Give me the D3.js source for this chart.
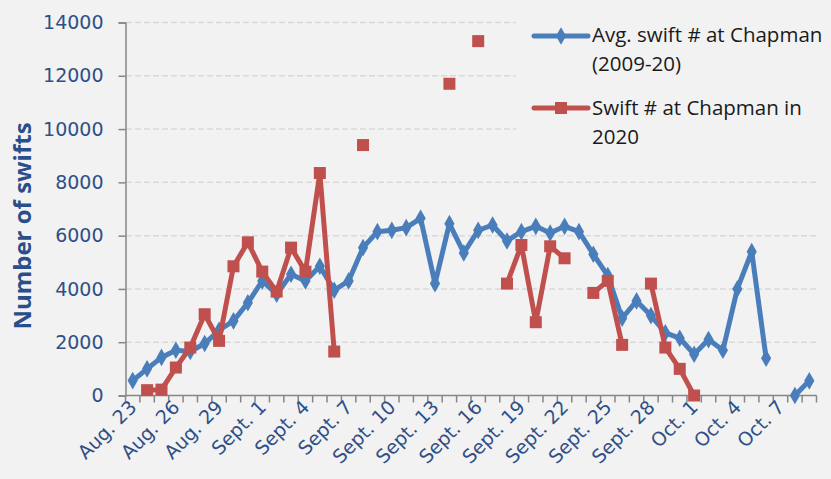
<!DOCTYPE html>
<html>
<head>
<meta charset="utf-8">
<script src="https://cdn.jsdelivr.net/npm/d3@7"></script>
<style>
  html, body { margin: 0; padding: 0; background: #f2f2f2; }
  svg { display: block; }
</style>
</head>
<body>
<div id="chart"></div>
<script>
// Chart size
const WIDTH = 831;
const HEIGHT = 479;

// Categories (one per day)
const days = [
  "Aug. 23", "Aug. 24", "Aug. 25", "Aug. 26", "Aug. 27", "Aug. 28", "Aug. 29", "Aug. 30", "Aug. 31",
  "Sept. 1", "Sept. 2", "Sept. 3", "Sept. 4", "Sept. 5", "Sept. 6", "Sept. 7", "Sept. 8", "Sept. 9",
  "Sept. 10", "Sept. 11", "Sept. 12", "Sept. 13", "Sept. 14", "Sept. 15", "Sept. 16", "Sept. 17",
  "Sept. 18", "Sept. 19", "Sept. 20", "Sept. 21", "Sept. 22", "Sept. 23", "Sept. 24", "Sept. 25",
  "Sept. 26", "Sept. 27", "Sept. 28", "Sept. 29", "Sept. 30", "Oct. 1", "Oct. 2", "Oct. 3",
  "Oct. 4", "Oct. 5", "Oct. 6", "Oct. 7", "Oct. 8", "Oct. 9"
];

// Avg. swift count 2009-20
const avgSwifts = [
  560, 1000, 1430, 1700, 1650, 1950, 2450, 2800, 3480, 4300,
  3800, 4550, 4300, 4850, 3950, 4300, 5550, 6150, 6200, 6300,
  6650, 4200, 6450, 5350, 6200, 6400, 5800, 6150, 6350, 6100,
  6350, 6150, 5300, 4500, 2900, 3550, 3000, 2350, 2150, 1550,
  2100, 1700, 4000, 5400, 1400, null, 0, 550
];

// Swift count 2020
const swifts2020 = [
  null, 200, 220, 1050, 1800, 3050, 2050, 4850, 5750, 4650,
  3900, 5550, 4650, 8350, 1650, null, 9400, null, null, null,
  null, null, 11700, null, 13300, null, 4200, 5650, 2750, 5600,
  5150, null, 3850, 4300, 1900, null, 4200, 1800, 1000, 0,
  null, null, null, null, null, null, null, null
];

const yTicks = [0, 2000, 4000, 6000, 8000, 10000, 12000, 14000];
const seriesNames = ["Avg. swift # at Chapman", "(2009-20)", "Swift # at Chapman in", "2020"];

const BLUE = "#4a7ebb";
const RED = "#c0504d";
const LABEL = "#2f4f86";

const svg = d3.select("#chart")
  .append("svg")
  .attr("width", WIDTH)
  .attr("height", HEIGHT);

svg.append("rect")
  .attr("width", WIDTH)
  .attr("height", HEIGHT)
  .attr("fill", "#f2f2f2");

// Scales
const x = d3.scaleBand()
  .domain(days)
  .range([125.5, 816.5])
  .padding(0);

const y = d3.scaleLinear()
  .domain([0, 14000])
  .range([395.5, 22.5]);

const cx = d => x(d) + x.bandwidth() / 2;

// Gridlines
svg.append("g")
  .selectAll("line")
  .data(yTicks.filter(t => t > 0))
  .enter()
  .append("line")
  .attr("x1", 126)
  .attr("x2", 816)
  .attr("y1", d => y(d))
  .attr("y2", d => y(d))
  .attr("stroke", "#d9d9d9")
  .attr("stroke-width", 1.5)
  .attr("stroke-dasharray", "6,3");

// Y axis
const yAxis = svg.append("g")
  .attr("transform", "translate(125.5,0)")
  .call(d3.axisLeft(y).tickValues(yTicks).tickSize(7).tickPadding(15).tickFormat(d3.format("d")));
yAxis.selectAll("path, line").attr("stroke", "#868686").attr("stroke-width", 1.5);
yAxis.selectAll("text")
  .attr("fill", LABEL)
  .style("font-family", "'DejaVu Sans', Verdana, sans-serif")
  .style("font-size", "19px");

// X axis: ticks on category boundaries
const xAxis = svg.append("g");
xAxis.append("line")
  .attr("x1", x.range()[0])
  .attr("x2", x.range()[1])
  .attr("y1", y(0))
  .attr("y2", y(0))
  .attr("stroke", "#868686")
  .attr("stroke-width", 1.5);
xAxis.selectAll("line.tick")
  .data(days.concat([null]))
  .enter()
  .append("line")
  .attr("class", "tick")
  .attr("x1", d => d ? x(d) : x.range()[1])
  .attr("x2", d => d ? x(d) : x.range()[1])
  .attr("y1", y(0))
  .attr("y2", y(0) + 7)
  .attr("stroke", "#868686")
  .attr("stroke-width", 1.5);
xAxis.selectAll("text")
  .data(days.filter((d, i) => i % 3 === 0))
  .enter()
  .append("text")
  .attr("transform", d => `translate(${cx(d) + 5},${y(0) + 13}) rotate(-45)`)
  .attr("text-anchor", "end")
  .attr("fill", LABEL)
  .style("font-family", "'DejaVu Sans', Verdana, sans-serif")
  .style("font-size", "19px")
  .text(d => d);

// Y axis title
svg.append("text")
  .attr("transform", "translate(31,226) rotate(-90)")
  .attr("text-anchor", "middle")
  .attr("fill", "#2a4e8c")
  .style("font-family", "'Open Sans', sans-serif")
  .style("font-weight", "bold")
  .style("font-size", "24px")
  .text("Number of swifts");

// Legend background covers the top gridlines
svg.append("rect")
  .attr("x", 516)
  .attr("y", 0)
  .attr("width", WIDTH - 516)
  .attr("height", 166)
  .attr("fill", "#f2f2f2");

// Lines
const line = d3.line()
  .defined(d => d.v != null)
  .x(d => cx(d.c))
  .y(d => y(d.v));

const blueData = days.map((c, i) => ({ c, v: avgSwifts[i] }));
const redData = days.map((c, i) => ({ c, v: swifts2020[i] }));

svg.append("path")
  .datum(blueData)
  .attr("fill", "none")
  .attr("stroke", BLUE)
  .attr("stroke-width", 5)
  .attr("stroke-linejoin", "round")
  .attr("d", line);

const diamond = d3.symbol().type(d3.symbolDiamond).size(90);
svg.append("g")
  .selectAll("path")
  .data(blueData.filter(d => d.v != null))
  .enter()
  .append("path")
  .attr("transform", d => `translate(${cx(d.c)},${y(d.v)})`)
  .attr("d", diamond)
  .attr("fill", BLUE);

svg.append("path")
  .datum(redData)
  .attr("fill", "none")
  .attr("stroke", RED)
  .attr("stroke-width", 5)
  .attr("stroke-linejoin", "round")
  .attr("d", line);

svg.append("g")
  .selectAll("rect")
  .data(redData.filter(d => d.v != null))
  .enter()
  .append("rect")
  .attr("x", d => cx(d.c) - 6)
  .attr("y", d => y(d.v) - 6)
  .attr("width", 12)
  .attr("height", 12)
  .attr("fill", RED);

// Legend
const legend = svg.append("g");
legend.append("line")
  .attr("x1", 534).attr("x2", 588).attr("y1", 36).attr("y2", 36)
  .attr("stroke", BLUE).attr("stroke-width", 5).attr("stroke-linecap", "round");
legend.append("path")
  .attr("transform", "translate(561,36)")
  .attr("d", diamond)
  .attr("fill", BLUE);
legend.append("line")
  .attr("x1", 534).attr("x2", 588).attr("y1", 108).attr("y2", 108)
  .attr("stroke", RED).attr("stroke-width", 5).attr("stroke-linecap", "round");
legend.append("rect")
  .attr("x", 555).attr("y", 102).attr("width", 12).attr("height", 12)
  .attr("fill", RED);

legend.selectAll("text")
  .data(seriesNames)
  .enter()
  .append("text")
  .attr("x", 592)
  .attr("y", (d, i) => [42, 71, 115, 144][i])
  .attr("fill", "#1a1a1a")
  .style("font-family", "'Open Sans', sans-serif")
  .style("font-size", "20.5px")
  .text(d => d);
</script>
</body>
</html>
